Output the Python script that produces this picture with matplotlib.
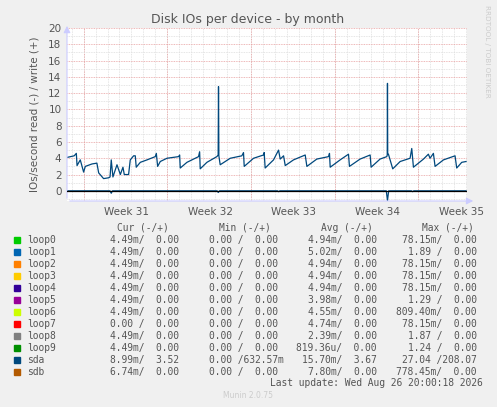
import matplotlib.pyplot as plt

# sda write IOs/s, x in days from the left edge of the graph
write_days = [0.0, 0.3, 0.6, 0.78, 0.84, 1.11, 1.39, 1.53, 2.09, 2.5, 2.65, 3.06, 3.48, 3.6, 3.70, 3.84,
              4.18, 4.46, 4.68, 4.79, 5.15, 5.29, 5.57, 5.71, 5.79, 6.13, 6.69, 7.38, 7.47, 7.58, 7.80,
              8.36, 9.33, 9.42, 9.47, 10.03, 11.0, 11.09, 11.14, 11.70, 12.53, 12.64, 12.67, 12.70,
              12.81, 13.65, 14.62, 14.76, 14.82, 15.6, 16.43, 16.49, 16.57, 17.27, 17.69, 17.83, 18.11,
              18.25, 18.94, 19.92, 20.06, 20.89, 21.87, 21.95, 22.01, 22.84, 23.54, 23.62, 24.51,
              25.35, 25.43, 26.18, 26.74, 26.78, 26.8, 26.82, 26.88, 27.02, 27.24, 27.86, 28.69,
              28.83, 28.97, 29.81, 30.22, 30.36, 30.64, 30.78, 31.48, 32.45, 32.59, 33.01, 33.37]
write_vals = [4.1, 4.2, 4.3, 4.6, 3.1, 3.8, 2.3, 3.0, 3.3, 3.4, 2.2, 1.5, 1.6, 1.7, 3.8, 1.7,
              3.2, 2.0, 2.9, 2.0, 2.0, 3.8, 4.3, 4.3, 2.9, 3.5, 3.8, 4.2, 4.6, 3.0, 3.6,
              4.0, 4.2, 4.4, 2.8, 3.5, 4.2, 4.8, 2.7, 3.5, 4.2, 4.4, 12.8, 4.3,
              3.2, 4.0, 4.3, 4.7, 3.0, 4.0, 4.4, 4.7, 2.8, 3.8, 5.0, 3.9, 4.3,
              3.1, 3.8, 4.4, 3.0, 3.9, 4.2, 4.6, 2.9, 3.8, 4.5, 3.0, 3.9,
              4.4, 2.9, 3.9, 4.2, 4.4, 13.2, 4.6, 4.5, 3.8, 2.7, 3.6, 4.0,
              5.2, 2.9, 3.9, 4.5, 4.0, 4.6, 3.0, 3.8, 4.3, 2.8, 3.5, 3.6]
# sda read (drawn negative)
read_days = [0.0, 3.6, 3.7, 3.8, 12.55, 12.65, 12.75, 17.6, 17.7, 17.8, 26.7, 26.8, 26.9, 28.8, 28.9, 29.0, 33.37]
read_vals = [0.0, 0.0, -0.3, 0.0, 0.0, -0.2, 0.0, 0.0, -0.1, 0.0, 0.0, -1.2, 0.0, 0.0, -0.1, 0.0, 0.0]

week_pos = [4.96, 11.96, 18.96, 25.96, 32.96]
week_labels = ["Week 31", "Week 32", "Week 33", "Week 34", "Week 35"]
major_grid = [1.39, 8.39, 15.39, 22.39, 29.39]

names = ["loop0", "loop1", "loop2", "loop3", "loop4", "loop5", "loop6", "loop7", "loop8", "loop9", "sda", "sdb"]
colors = ["#00CC00", "#0066B3", "#FF8000", "#FFCC00", "#330099", "#990099", "#CCFF00", "#FF0000",
          "#808080", "#008F00", "#00487D", "#B35A00"]
cur = ["4.49m/  0.00"] * 7 + ["0.00 /  0.00"] + ["4.49m/  0.00"] * 2 + ["8.99m/  3.52", "6.74m/  0.00"]
mins = ["0.00 /  0.00"] * 10 + ["0.00 /632.57m", "0.00 /  0.00"]
avgs = ["4.94m/  0.00", "5.02m/  0.00", "4.94m/  0.00", "4.94m/  0.00", "4.94m/  0.00", "3.98m/  0.00",
        "4.55m/  0.00", "4.74m/  0.00", "2.39m/  0.00", "819.36u/  0.00", "15.70m/  3.67", "7.80m/  0.00"]
maxs = ["78.15m/  0.00", "1.89 /  0.00", "78.15m/  0.00", "78.15m/  0.00", "78.15m/  0.00", "1.29 /  0.00",
        "809.40m/  0.00", "78.15m/  0.00", "1.87 /  0.00", "1.24 /  0.00", "27.04 /208.07", "778.45m/  0.00"]

W, H = 497, 407
fig = plt.figure(figsize=(W / 100, H / 100), dpi=100, facecolor="#F0F0F0")
ax = fig.add_axes([67 / W, 1 - 201 / H, 400 / W, 173 / H])
ax.set_facecolor("white")

ax.set_xlim(0, 33.45)
ax.set_ylim(-1.25, 20.0)
for d in range(34):
    ax.axvline(d + 0.39, color="#dddddd", lw=0.6, ls=(0, (1, 1)), zorder=0)
for d in major_grid:
    ax.axvline(d, color="#e8a0a0", lw=0.6, ls=(0, (1, 1)), zorder=0)
for y in range(-1, 21):
    c = "#e8a0a0" if y % 2 == 0 else "#dddddd"
    ax.axhline(y, color=c, lw=0.6, ls=(0, (1, 1)), zorder=0)

ax.plot(write_days, write_vals, color="#00487D", lw=0.9, zorder=3)
ax.plot(read_days, read_vals, color="#00487D", lw=0.9, zorder=3)
ax.axhline(0, color="black", lw=0.9, zorder=4)

ax.set_yticks(range(0, 21, 2))
ax.set_xticks(week_pos)
ax.set_xticklabels(week_labels)
ax.tick_params(labelsize=7.5, colors="#555555", length=0, pad=4)
for s in ax.spines.values():
    s.set_visible(False)
ax.annotate("", xy=(0, 20.6), xytext=(0, -1.25), xycoords="data",
            arrowprops=dict(arrowstyle="-|>", color="#ccccff", lw=0.8), annotation_clip=False)
ax.annotate("", xy=(34.2, -1.25), xytext=(0, -1.25), xycoords="data",
            arrowprops=dict(arrowstyle="-|>", color="#ccccff", lw=0.8), annotation_clip=False)
ax.set_ylabel("IOs/second read (-) / write (+)", fontsize=7.5, color="#555555", labelpad=6)

fig.text(248 / W, 1 - 19 / H, "Disk IOs per device - by month", ha="center", va="center",
         fontsize=9, color="#555555")
fig.text(487 / W, 1 - 5 / H, "RRDTOOL / TOBI OETIKER", rotation=270, ha="center", va="top",
         fontsize=5.2, color="#cccccc")

mono = dict(family="DejaVu Sans Mono", fontsize=6.9, color="#555555", va="center")
hy = 1 - 228 / H
for txt, cx in [("Cur (-/+)", 143), ("Min (-/+)", 245), ("Avg (-/+)", 347), ("Max (-/+)", 448)]:
    fig.text(cx / W, hy, txt, ha="center", **mono)
for i, name in enumerate(names):
    y = 1 - (240 + 12 * i) / H
    fig.patches.append(plt.Rectangle((14 / W, y - 3 / H), 6 / W, 6 / H, transform=fig.transFigure,
                                     color=colors[i]))
    fig.text(27 / W, y, name, ha="left", **mono)
    fig.text(179 / W, y, cur[i], ha="right", **mono)
    fig.text(278 / W, y, mins[i], ha="right" if i != 10 else "left",
             **mono) if i != 10 else fig.text(209 / W, y, mins[i], ha="left", **mono)
    fig.text(377 / W, y, avgs[i], ha="right", **mono)
    fig.text(477 / W, y, maxs[i], ha="right", **mono)
fig.text(483 / W, 1 - 383 / H, "Last update: Wed Aug 26 20:00:18 2026", ha="right", **mono)
fig.text(248 / W, 1 - 396 / H, "Munin 2.0.75", ha="center", va="center", fontsize=5.5, color="#cccccc")

fig.savefig("out.png", dpi=100, facecolor=fig.get_facecolor())
